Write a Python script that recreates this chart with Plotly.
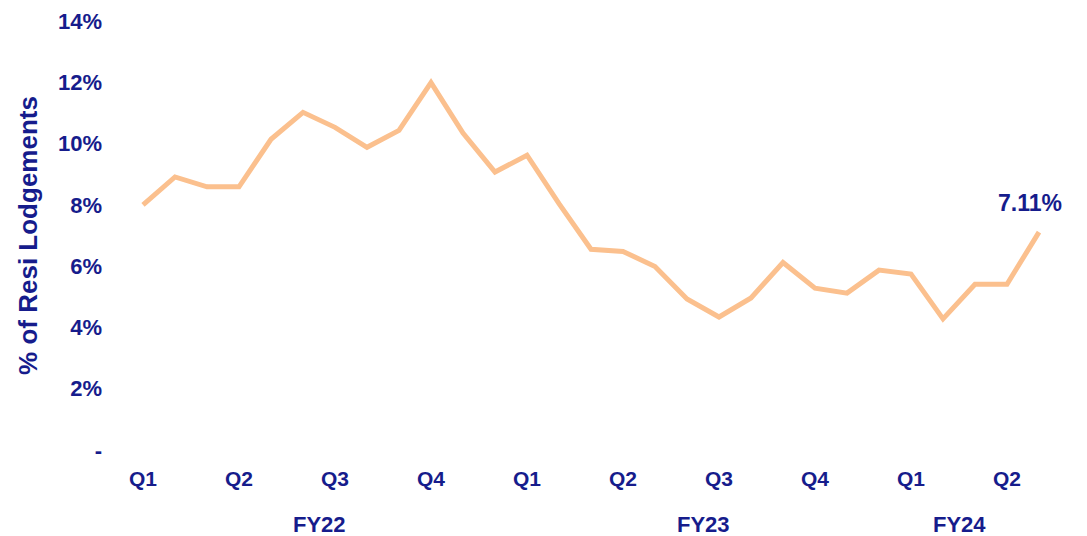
import plotly.graph_objects as go

months = list(range(29))
values = [8.00, 8.91, 8.59, 8.59, 10.14, 11.02, 10.53, 9.88, 10.43, 11.99,
          10.34, 9.07, 9.62, 8.04, 6.55, 6.48, 5.99, 4.93, 4.34, 4.96,
          6.12, 5.28, 5.12, 5.87, 5.74, 4.28, 5.41, 5.41, 7.11]
quarter_pos = [0, 3, 6, 9, 12, 15, 18, 21, 24, 27]
quarter_labels = ["Q1", "Q2", "Q3", "Q4", "Q1", "Q2", "Q3", "Q4", "Q1", "Q2"]
fy_pos = [5.5, 17.5, 25.5]
fy_labels = ["FY22", "FY23", "FY24"]
y_ticks = [0, 2, 4, 6, 8, 10, 12, 14]
y_labels = ["-", "2%", "4%", "6%", "8%", "10%", "12%", "14%"]

NAVY = "#161c8c"
LINE = "#fbc08e"
FONT = "Liberation Sans, Arial, sans-serif"

fig = go.Figure()
fig.add_trace(go.Scatter(x=months, y=values, mode="lines",
                         line=dict(color=LINE, width=5), hoverinfo="skip"))

fig.add_annotation(x=months[-1], y=values[-1], text="<b>7.11%</b>", showarrow=False,
                   yanchor="bottom", yshift=14, xanchor="center", xshift=-9,
                   font=dict(family=FONT, size=23, color=NAVY))

for p, t in zip(fy_pos, fy_labels):
    fig.add_annotation(x=p, y=0, xref="x", yref="paper", text="<b>" + t + "</b>",
                       showarrow=False, yanchor="middle", yshift=-74,
                       font=dict(family=FONT, size=22, color=NAVY))

fig.update_layout(
    width=1079, height=528,
    margin=dict(l=119, r=32, t=13, b=86),
    plot_bgcolor="white", paper_bgcolor="white",
    showlegend=False,
    font=dict(family=FONT, color=NAVY),
    xaxis=dict(range=[-0.5, 28.5], tickmode="array", tickvals=quarter_pos,
               ticktext=["<b>" + q + "</b>" for q in quarter_labels],
               showgrid=False, zeroline=False, showline=False, ticks="",
               ticklabelstandoff=14, automargin=False, ticklabeloverflow="allow",
               tickfont=dict(family=FONT, size=21, color=NAVY)),
    yaxis=dict(range=[0, 14], tickmode="array", tickvals=y_ticks,
               ticktext=["<b>" + t + "</b>" for t in y_labels],
               showgrid=False, zeroline=False, showline=False, ticks="",
               ticklabelstandoff=24, automargin=False, ticklabeloverflow="allow",
               tickfont=dict(family=FONT, size=22, color=NAVY),
               title=dict(text="<b>% of Resi Lodgements</b>", standoff=12,
                          font=dict(family=FONT, size=26, color=NAVY))),
)

fig.write_html("out.html")
